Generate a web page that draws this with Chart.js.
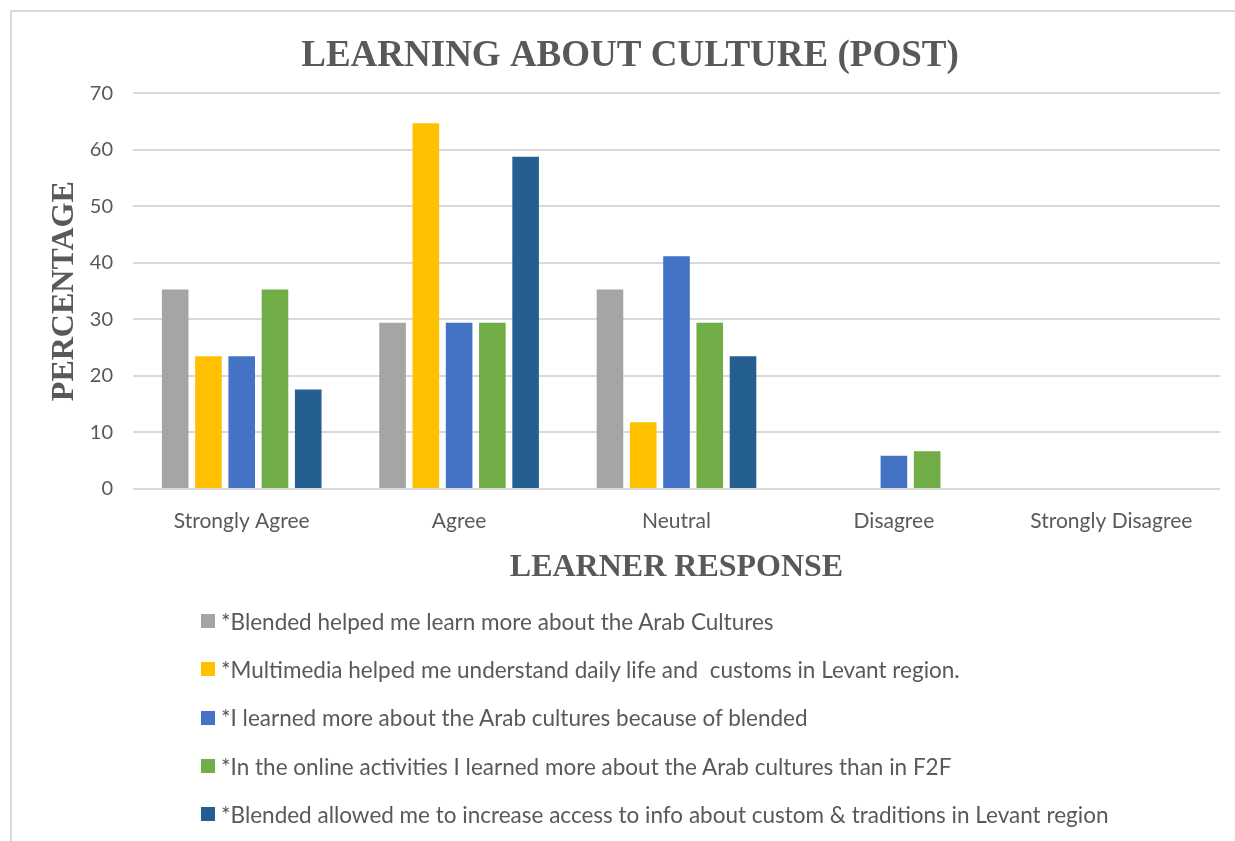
<!DOCTYPE html>
<html>
<head>
<meta charset="utf-8">
<script src="https://cdn.jsdelivr.net/npm/chart.js@4"></script>
<style>
  body { margin: 0; background: #fff; }
  .frame { position: absolute; left: 10px; top: 10px; width: 1240px; height: 850px; border: 2px solid #d9d9d9; box-sizing: border-box; }
  .chart-wrap { position: absolute; left: 0; top: 0; }
  #legend { position: absolute; left: 201px; top: 597px; font-family: Lato, "Open Sans", sans-serif; font-size: 22.5px; color: #595959; }
  #legend .item { height: 48.3px; display: flex; align-items: center; white-space: pre; }
  #legend .box { width: 14px; height: 14px; margin-right: 6px; flex: none; }
</style>
</head>
<body>
<div class="frame"></div>
<div class="chart-wrap"><canvas id="myChart" width="1235" height="600"></canvas></div>
<div id="legend"></div>
<script>
const categories = ['Strongly Agree', 'Agree', 'Neutral', 'Disagree', 'Strongly Disagree']
const seriesNames = [
  '*Blended helped me learn more about the Arab Cultures',
  '*Multimedia helped me understand daily life and  customs in Levant region.',
  '*I learned more about the Arab cultures because of blended',
  '*In the online activities I learned more about the Arab cultures than in F2F',
  '*Blended allowed me to increase access to info about custom & traditions in Levant region'
]
const blendedLearn = [35.3, 29.4, 35.3, 0, 0]
const multimedia = [23.5, 64.7, 11.8, 0, 0]
const learnedMore = [23.5, 29.4, 41.2, 5.9, 0]
const onlineActivities = [35.3, 29.4, 29.4, 6.7, 0]
const accessInfo = [17.6, 58.8, 23.5, 0, 0]
const colors = ['#A5A5A5', '#FFC000', '#4472C4', '#70AD47', '#255E91']

const seriesValues = [blendedLearn, multimedia, learnedMore, onlineActivities, accessInfo]
const textColor = '#595959'
const serif = '"Liberation Serif", "Times New Roman", serif'
const sans = 'Lato, "Open Sans", sans-serif'

let datasets = seriesValues.map((vals, i) => ({
  label: seriesNames[i],
  data: vals,
  backgroundColor: colors[i],
  borderWidth: 0,
  barPercentage: 0.8,
  categoryPercentage: 0.765
}))

var ctx = document.querySelector('#myChart').getContext('2d')
var myBarChart = new Chart(ctx, {
  type: 'bar',
  data: { labels: categories, datasets: datasets },
  options: {
    responsive: false,
    animation: false,
    layout: { padding: { left: 40, right: 15, top: 20, bottom: 0 } },
    plugins: {
      legend: { display: false },
      tooltip: { enabled: false },
      title: {
        display: true,
        text: 'LEARNING ABOUT CULTURE (POST)',
        color: textColor,
        font: { family: serif, size: 37, weight: 'bold' },
        padding: { top: 14, bottom: 15 }
      }
    },
    scales: {
      x: {
        grid: { display: false, drawTicks: false },
        border: { display: false },
        ticks: { color: textColor, padding: 20, font: { family: sans, size: 21 } },
        title: {
          display: true,
          text: 'LEARNER RESPONSE',
          color: textColor,
          font: { family: serif, size: 32, weight: 'bold' },
          padding: { top: 4, bottom: 13 }
        },
        afterFit: scale => { scale.height = 111 }
      },
      y: {
        min: 0,
        max: 70,
        ticks: { stepSize: 10, color: textColor, padding: 20, font: { family: sans, size: 20 } },
        grid: { color: '#D9D9D9', lineWidth: 2, drawTicks: false },
        border: { display: false },
        title: {
          display: true,
          text: 'PERCENTAGE',
          color: textColor,
          font: { family: serif, size: 32, weight: 'bold' },
          padding: { top: 6, bottom: 4 }
        },
        afterFit: scale => { scale.width = 93 }
      }
    }
  }
})

// legend as a vertical list under the chart
let legendDiv = document.querySelector('#legend')
myBarChart.data.datasets.forEach(ds => {
  let item = document.createElement('div')
  item.className = 'item'
  let box = document.createElement('span')
  box.className = 'box'
  box.style.background = ds.backgroundColor
  let txt = document.createElement('span')
  txt.textContent = ds.label
  item.append(box, txt)
  legendDiv.append(item)
})
</script>
</body>
</html>
